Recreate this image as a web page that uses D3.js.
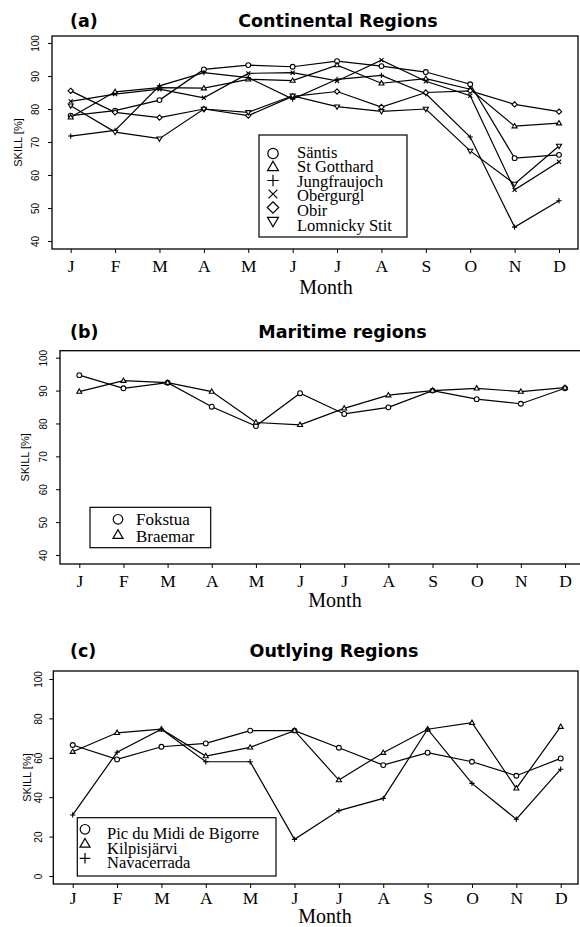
<!DOCTYPE html>
<html>
<head>
<meta charset="utf-8">
<script src="https://cdn.jsdelivr.net/npm/d3@7"></script>
<style>
  body { margin: 0; background: #fff; }
  svg { display: block; }
</style>
</head>
<body>
<svg id="chart" width="580" height="927"></svg>
<script>
// ---- data -------------------------------------------------------------
const months = ["J", "F", "M", "A", "M", "J", "J", "A", "S", "O", "N", "D"];

// (a) Continental regions, forecast skill (%) per month
const continentalStations = ["Säntis", "St Gotthard", "Jungfraujoch", "Obergurgl", "Obir", "Lomnicky Stit"];
const santis       = [78.0, 79.5, 82.7, 92.0, 93.3, 92.8, 94.5, 93.0, 91.2, 87.5, 65.1, 66.1];
const stGotthard   = [77.5, 85.2, 86.5, 86.3, 89.0, 88.6, 93.3, 87.8, 89.2, 86.0, 74.8, 75.7];
const jungfraujoch = [71.8, 73.5, 87.0, 91.0, 89.5, 83.0, 89.0, 90.2, 84.6, 71.5, 44.2, 52.2];
const obergurgl    = [82.3, 84.5, 86.0, 83.4, 90.8, 91.0, 88.5, 94.8, 88.4, 84.0, 55.5, 64.0];
const obir         = [85.5, 79.0, 77.4, 80.0, 78.0, 83.8, 85.3, 80.6, 85.0, 85.5, 81.4, 79.2];
const lomnicky     = [81.0, 73.0, 71.0, 80.0, 79.0, 84.0, 80.7, 79.3, 80.0, 67.3, 57.3, 68.8];

// (b) Maritime regions
const maritimeStations = ["Fokstua", "Braemar"];
const fokstua = [94.7, 90.7, 92.4, 85.1, 79.2, 89.2, 82.9, 84.9, 90.0, 87.4, 86.0, 90.7];
const braemar = [89.7, 93.0, 92.4, 89.7, 80.3, 79.6, 84.6, 88.6, 90.0, 90.7, 89.7, 90.9];

// (c) Outlying regions
const outlyingStations = ["Pic du Midi de Bigorre", "Kilpisjärvi", "Navacerrada"];
const picDuMidi   = [66.5, 59.2, 65.6, 67.3, 73.8, 73.8, 65.1, 56.3, 62.6, 58.0, 50.9, 59.7];
const kilpisjarvi = [63.1, 72.7, 74.5, 60.9, 65.3, 73.8, 48.7, 62.6, 74.5, 77.8, 44.5, 75.8];
const navacerrada = [31.0, 62.8, 74.5, 58.0, 58.0, 18.6, 33.2, 39.4, 74.5, 47.0, 28.8, 54.2];

const skillTicksUpper = [40, 50, 60, 70, 80, 90, 100];
const skillTicksFull  = [0, 20, 40, 60, 80, 100];

// ---- symbols ------------------------------------------------------------
function symbolPath(kind, s) {
  switch (kind) {
    case "circle":
      return `M${s},0A${s},${s} 0 1,1 ${-s},0A${s},${s} 0 1,1 ${s},0Z`;
    case "triangle":
      return `M0,${-s * 1.1}L${s * 1.05},${s * 0.7}L${-s * 1.05},${s * 0.7}Z`;
    case "triangleDown":
      return `M0,${s * 1.1}L${s * 1.05},${-s * 0.7}L${-s * 1.05},${-s * 0.7}Z`;
    case "plus":
      return `M${-s * 1.1},0H${s * 1.1}M0,${-s * 1.1}V${s * 1.1}`;
    case "cross":
      return `M${-s * 0.85},${-s * 0.85}L${s * 0.85},${s * 0.85}M${s * 0.85},${-s * 0.85}L${-s * 0.85},${s * 0.85}`;
    case "diamond":
      return `M0,${-s * 1.1}L${s * 1.1},0L0,${s * 1.1}L${-s * 1.1},0Z`;
  }
}
const openKinds = new Set(["plus", "cross"]);

// ---- panels -------------------------------------------------------------
const panels = [
  {
    tag: "(a)", title: "Continental Regions", titleX: 338, titleBase: 27,
    box: { l: 52, r: 578, t: 36, b: 249 },
    yDomain: [40, 100], yRange: [241, 43], ticks: skillTicksUpper,
    xRange: [70.7, 559], tickLabelGap: 17, xLabelBase: 23,
    monthX: 326, monthBase: 294, skillX: 18.5,
    series: [
      { name: continentalStations[0], values: santis, kind: "circle" },
      { name: continentalStations[1], values: stGotthard, kind: "triangle" },
      { name: continentalStations[2], values: jungfraujoch, kind: "plus" },
      { name: continentalStations[3], values: obergurgl, kind: "cross" },
      { name: continentalStations[4], values: obir, kind: "diamond" },
      { name: continentalStations[5], values: lomnicky, kind: "triangleDown" }
    ],
    legend: { x: 259, y: 135, w: 148, h: 102, symX: 273, textX: 297,
              symY0: 153.5, symStep: 13.5, textY0: 157.5, textStep: 14.6, symSize: 5.2, font: 16.5 }
  },
  {
    tag: "(b)", title: "Maritime regions", titleX: 342.5, titleBase: 338,
    box: { l: 60, r: 586, t: 350.7, b: 564 },
    yDomain: [40, 100], yRange: [555, 357.7], ticks: skillTicksUpper,
    xRange: [79.3, 565], tickLabelGap: 16.7, xLabelBase: 22.7,
    monthX: 335, monthBase: 607, skillX: 25,
    series: [
      { name: maritimeStations[0], values: fokstua, kind: "circle" },
      { name: maritimeStations[1], values: braemar, kind: "triangle" }
    ],
    legend: { x: 90, y: 507.3, w: 120.7, h: 40.4, symX: 118, textX: 136,
              symY0: 519.3, symStep: 15.7, textY0: 525, textStep: 16.7, symSize: 4.8, font: 17 }
  },
  {
    tag: "(c)", title: "Outlying Regions", titleX: 334, titleBase: 657,
    box: { l: 53.3, r: 578, t: 671, b: 884 },
    yDomain: [0, 100], yRange: [876, 679], ticks: skillTicksFull,
    xRange: [72.7, 560.7], tickLabelGap: 15, xLabelBase: 19.5,
    monthX: 325, monthBase: 923, skillX: 26.7,
    series: [
      { name: outlyingStations[0], values: picDuMidi, kind: "circle" },
      { name: outlyingStations[1], values: kilpisjarvi, kind: "triangle" },
      { name: outlyingStations[2], values: navacerrada, kind: "plus" }
    ],
    legend: { x: 77.3, y: 817.7, w: 198.7, h: 58.3, symX: 85, textX: 107,
              symY0: 829.3, symStep: 14.5, textY0: 839.3, textStep: 14.5, symSize: 4.8, font: 16.5 }
  }
];

const svg = d3.select("#chart");
const serif = "'Liberation Serif', 'Times New Roman', serif";
const sans = "'Liberation Sans', Arial, sans-serif";
const heading = "'DejaVu Sans', 'Liberation Sans', sans-serif";

panels.forEach(p => {
  const g = svg.append("g");
  const x = d3.scalePoint().domain(d3.range(months.length)).range(p.xRange);
  const y = d3.scaleLinear().domain(p.yDomain).range(p.yRange);

  // headings
  g.append("text")
    .attr("x", 70).attr("y", p.titleBase)
    .attr("font-family", heading).attr("font-weight", "bold").attr("font-size", 17.5)
    .text(p.tag);
  g.append("text")
    .attr("x", p.titleX).attr("y", p.titleBase).attr("text-anchor", "middle")
    .attr("font-family", heading).attr("font-weight", "bold").attr("font-size", 17.5)
    .text(p.title);

  // y axis
  const yAxis = d3.axisLeft(y).tickValues(p.ticks).tickSize(4).tickFormat(d3.format("d"));
  const ya = g.append("g").attr("transform", `translate(${p.box.l},0)`).call(yAxis);
  ya.select(".domain").remove();
  ya.selectAll("line").attr("stroke", "#000").attr("stroke-width", 1);
  ya.selectAll("text")
    .attr("transform", "rotate(-90)")
    .attr("x", 0).attr("y", -p.tickLabelGap).attr("dy", "0.35em")
    .attr("text-anchor", "middle")
    .attr("font-family", sans).attr("font-size", 10).attr("fill", "#000");

  // x axis
  const xAxis = d3.axisBottom(x).tickSize(4).tickFormat(i => months[i]);
  const xa = g.append("g").attr("transform", `translate(0,${p.box.b})`).call(xAxis);
  xa.select(".domain").remove();
  xa.selectAll("line").attr("stroke", "#000").attr("stroke-width", 1);
  xa.selectAll("text")
    .attr("y", p.xLabelBase).attr("dy", null)
    .attr("font-family", serif).attr("font-size", 17.5).attr("fill", "#000");

  // axis titles
  g.append("text")
    .attr("x", p.monthX).attr("y", p.monthBase).attr("text-anchor", "middle")
    .attr("font-family", serif).attr("font-size", 20)
    .text("Month");
  g.append("text")
    .attr("transform", `translate(${p.skillX},${(p.box.t + p.box.b) / 2}) rotate(-90)`)
    .attr("text-anchor", "middle").attr("dy", "0.35em")
    .attr("font-family", sans).attr("font-size", 11)
    .text("SKILL [%]");

  // frame
  g.append("rect")
    .attr("x", p.box.l).attr("y", p.box.t)
    .attr("width", p.box.r - p.box.l).attr("height", p.box.b - p.box.t)
    .attr("fill", "none").attr("stroke", "#000").attr("stroke-width", 1.3);

  // series lines
  const line = d3.line().x((d, i) => x(i)).y(d => y(d));
  p.series.forEach(s => {
    g.append("path")
      .attr("d", line(s.values))
      .attr("fill", "none").attr("stroke", "#000").attr("stroke-width", 1.2);
  });
  // series markers
  p.series.forEach(s => {
    g.append("g").selectAll("path")
      .data(s.values)
      .join("path")
      .attr("transform", (d, i) => `translate(${x(i)},${y(d)})`)
      .attr("d", symbolPath(s.kind, 2.4))
      .attr("fill", openKinds.has(s.kind) ? "none" : "#fff")
      .attr("stroke", "#000").attr("stroke-width", 1.1);
  });

  // legend
  const L = p.legend;
  g.append("rect")
    .attr("x", L.x).attr("y", L.y).attr("width", L.w).attr("height", L.h)
    .attr("fill", "#fff").attr("stroke", "#000").attr("stroke-width", 1.2);
  p.series.forEach((s, i) => {
    g.append("path")
      .attr("transform", `translate(${L.symX},${L.symY0 + i * L.symStep})`)
      .attr("d", symbolPath(s.kind, L.symSize))
      .attr("fill", "none").attr("stroke", "#000").attr("stroke-width", 1.2);
    g.append("text")
      .attr("x", L.textX).attr("y", L.textY0 + i * L.textStep)
      .attr("font-family", serif).attr("font-size", L.font)
      .text(s.name);
  });
});
</script>
</body>
</html>
